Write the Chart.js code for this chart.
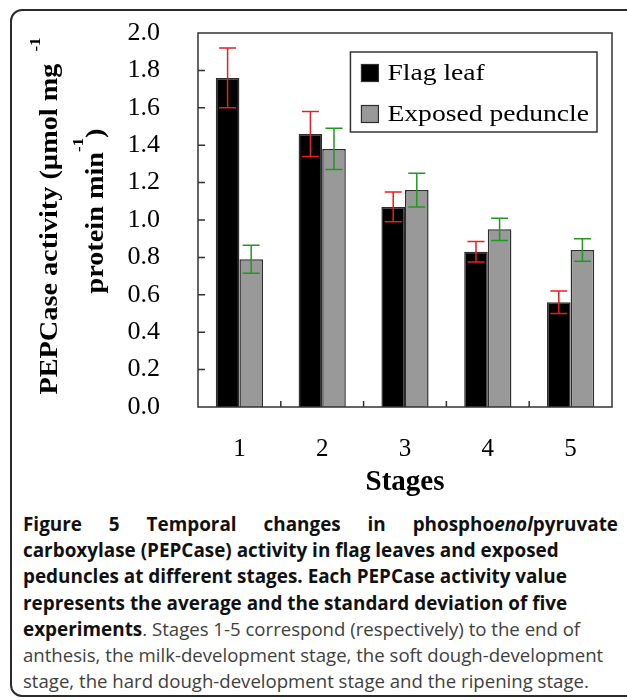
<!DOCTYPE html>
<html>
<head>
<meta charset="utf-8">
<script src="https://cdn.jsdelivr.net/npm/chart.js@4.4.0/dist/chart.umd.min.js"></script>
<style>
  html, body { margin: 0; padding: 0; background: #fff; width: 627px; height: 700px; overflow: hidden; }
  #frame { position: absolute; left: 10px; top: 9px; width: 680px; height: 684px; border: 2px solid #2b2b2b; border-radius: 12px; }
  #chart { position: absolute; left: 0; top: 0; }
  #caption { position: absolute; left: 23px; top: 511px; width: 595px; font-family: "Open Sans", sans-serif; font-size: 18.6px; line-height: 26.2px; color: #404040; }
  #caption div { white-space: nowrap; }
  #caption b { color: #111; font-weight: 700; font-size: 18.9px; }
  #caption .first { white-space: normal; text-align: justify; text-align-last: justify; }
</style>
</head>
<body>
<div id="frame"></div>
<canvas id="chart" width="627" height="500"></canvas>
<div id="caption">
  <div class="first"><b>Figure 5 Temporal changes in phospho<i>enol</i>pyruvate</b></div>
  <div><b>carboxylase (PEPCase) activity in flag leaves and exposed</b></div>
  <div><b>peduncles at different stages. Each PEPCase activity value</b></div>
  <div><b>represents the average and the standard deviation of five</b></div>
  <div><b>experiments</b>. Stages 1-5 correspond (respectively) to the end of</div>
  <div>anthesis, the milk-development stage, the soft dough-development</div>
  <div>stage, the hard dough-development stage and the ripening stage.</div>
</div>
<script>
// Dados
const stages = ['1', '2', '3', '4', '5'];
const seriesNames = ['Flag leaf', 'Exposed peduncle'];
const flagLeaf = [1.76, 1.46, 1.07, 0.83, 0.56];
const flagLeafErr = [0.16, 0.12, 0.08, 0.055, 0.06];
const peduncle = [0.79, 1.38, 1.16, 0.95, 0.84];
const peduncleErr = [0.075, 0.11, 0.09, 0.06, 0.06];
const yTickLabels = ['0.0', '0.2', '0.4', '0.6', '0.8', '1.0', '1.2', '1.4', '1.6', '1.8', '2.0'];
const yTitleLines = [
    [{ text: 'PEPCase activity (\u00b5mol mg' }, { text: '-1', sup: true }],
    [{ text: 'protein min' }, { text: '-1', sup: true }, { text: ')' }]
];

const serif = '"Liberation Serif", "Times New Roman", serif';
const barColors = ['#000000', '#999999'];
const errColors = ['#ee1c1c', '#1f9a1f'];
const errors = [flagLeafErr, peduncleErr];

// texto esticado na horizontal (a fonte do original é mais larga)
function stretchedText(ctx, text, x, y, sx) {
    ctx.save();
    ctx.translate(x, y);
    ctx.scale(sx, 1);
    ctx.fillText(text, 0, 0);
    ctx.restore();
}

const extras = {
    id: 'extras',
    afterDatasetsDraw(chart) {
        const { ctx, chartArea: ca, scales: { x, y } } = chart;
        ctx.save();

        // barras de erro
        errors.forEach((errs, di) => {
            const meta = chart.getDatasetMeta(di);
            const vals = chart.data.datasets[di].data;
            ctx.strokeStyle = errColors[di];
            ctx.lineWidth = 1.5;
            meta.data.forEach((bar, i) => {
                const top = y.getPixelForValue(vals[i] + errs[i]);
                const bot = y.getPixelForValue(vals[i] - errs[i]);
                ctx.beginPath();
                ctx.moveTo(bar.x, top); ctx.lineTo(bar.x, bot);
                ctx.moveTo(bar.x - 8.5, top); ctx.lineTo(bar.x + 8.5, top);
                ctx.moveTo(bar.x - 8.5, bot); ctx.lineTo(bar.x + 8.5, bot);
                ctx.stroke();
            });
        });

        // moldura e marcas para dentro
        ctx.strokeStyle = '#333';
        ctx.lineWidth = 1.5;
        ctx.strokeRect(ca.left, ca.top, ca.right - ca.left, ca.bottom - ca.top);
        ctx.beginPath();
        y.ticks.forEach(t => {
            const py = y.getPixelForValue(t.value);
            if (py > ca.top + 2 && py < ca.bottom - 2) {
                ctx.moveTo(ca.left, py); ctx.lineTo(ca.left + 7, py);
            }
        });
        for (let i = 0; i < stages.length - 1; i++) {
            const px = (x.getPixelForValue(i) + x.getPixelForValue(i + 1)) / 2;
            ctx.moveTo(px, ca.bottom); ctx.lineTo(px, ca.bottom - 6);
        }
        ctx.stroke();
        ctx.restore();
    },
    afterDraw(chart) {
        const { ctx, chartArea: ca } = chart;
        ctx.save();

        // legenda dentro do gráfico
        const sx = 1.15;
        ctx.font = '24px ' + serif;
        const textW = Math.max(...seriesNames.map(n => ctx.measureText(n).width)) * sx;
        const boxW = 11 + 17 + 9 + textW + 8;
        const boxR = ca.right - 15, boxT = ca.top + 19, boxH = 80;
        const boxL = boxR - boxW;
        ctx.strokeStyle = '#333';
        ctx.lineWidth = 1.5;
        ctx.strokeRect(boxL, boxT, boxW, boxH);
        seriesNames.forEach((name, i) => {
            const cy = boxT + 21 + i * 41;
            ctx.fillStyle = barColors[i];
            ctx.fillRect(boxL + 11, cy - 8.5, 17, 17);
            ctx.strokeStyle = '#2e2e2e';
            ctx.lineWidth = 1.2;
            ctx.strokeRect(boxL + 11, cy - 8.5, 17, 17);
            ctx.fillStyle = '#000';
            ctx.textBaseline = 'middle';
            ctx.textAlign = 'left';
            stretchedText(ctx, name, boxL + 37, cy + 1, sx);
        });

        // título do eixo Y, duas linhas giradas com expoentes
        const mainFont = 'bold 25px ' + serif;
        const supFont = 'bold 15px ' + serif;
        const tsx = 1.13;
        const lineSpecs = [
            { base: 57, cy: 216, raise: 17, gap: 12 },
            { base: 103, cy: 211, raise: 20, gap: 0 }
        ];
        ctx.fillStyle = '#000';
        ctx.textBaseline = 'alphabetic';
        ctx.textAlign = 'left';
        ctx.rotate(-Math.PI / 2);
        yTitleLines.forEach((segs, li) => {
            const spec = lineSpecs[li];
            const widths = segs.map(s => {
                ctx.font = s.sup ? supFont : mainFont;
                return ctx.measureText(s.text).width * tsx + (s.sup ? spec.gap : 0);
            });
            const total = widths.reduce((a, b) => a + b, 0);
            let lx = -(spec.cy + total / 2);
            segs.forEach((s, si) => {
                ctx.font = s.sup ? supFont : mainFont;
                const off = s.sup ? spec.gap : 0;
                stretchedText(ctx, s.text, lx + off, spec.base - (s.sup ? spec.raise : 0), tsx);
                lx += widths[si];
            });
        });
        ctx.restore();
    }
};

new Chart(document.getElementById('chart'), {
    type: 'bar',
    data: {
        labels: stages,
        datasets: [
            { label: seriesNames[0], data: flagLeaf, backgroundColor: barColors[0], borderColor: '#2e2e2e', borderWidth: 1.5 },
            { label: seriesNames[1], data: peduncle, backgroundColor: barColors[1], borderColor: '#2e2e2e', borderWidth: 1.5 }
        ]
    },
    options: {
        responsive: false,
        animation: false,
        layout: { padding: { top: 33, right: 15, left: 0, bottom: 0 } },
        datasets: { bar: { categoryPercentage: 0.57, barPercentage: 1.0 } },
        plugins: { legend: { display: false }, tooltip: { enabled: false } },
        scales: {
            x: {
                grid: { display: false },
                border: { display: false },
                ticks: { color: '#000', padding: 19, font: { family: serif, size: 25 } },
                title: {
                    display: true, text: 'Stages', color: '#000',
                    font: { family: serif, size: 29, weight: 'bold' },
                    padding: { top: 0, bottom: 0 }
                },
                afterFit: (scale) => { scale.height = 93; }
            },
            y: {
                min: 0, max: 2,
                grid: { display: false },
                border: { display: false },
                ticks: {
                    stepSize: 0.2, color: '#000', padding: 30,
                    font: { family: serif, size: 26 },
                    callback: (v, i) => yTickLabels[i]
                },
                afterFit: (scale) => {
                    scale.width = 198;
                    scale.paddingTop = 0;
                    scale.paddingBottom = 0;
                }
            }
        }
    },
    plugins: [extras]
});
</script>
</body>
</html>
